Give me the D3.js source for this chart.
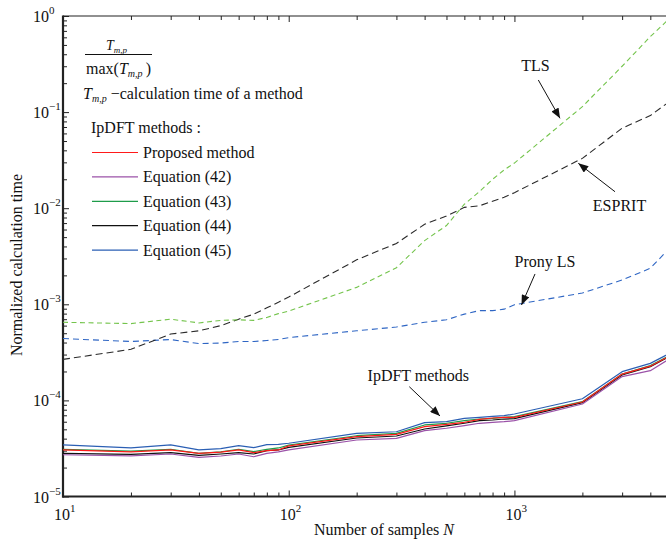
<!DOCTYPE html>
<html>
<head>
<meta charset="utf-8">
<script src="https://cdn.jsdelivr.net/npm/d3@7"></script>
<style>
  html, body { margin: 0; padding: 0; background: #fff; }
  svg { display: block; font-family: "Liberation Serif", "Times New Roman", serif; }
</style>
</head>
<body>
<svg id="chart" width="666" height="539"></svg>
<script>
// sample counts on the x axis
const samples = [10, 20, 30, 40, 50, 60, 70, 80, 90, 100, 200, 300, 400, 500, 600, 700, 800, 900, 1000, 2000, 3000, 4000, 5000];

// normalized calculation times
const tls = [6.5e-4, 6.3e-4, 7.0e-4, 6.4e-4, 6.8e-4, 6.9e-4, 6.8e-4, 7.3e-4, 8.0e-4, 8.5e-4, 1.5e-3, 2.4e-3, 4.6e-3, 6.6e-3, 1.1e-2, 1.49e-2, 2.0e-2, 2.5e-2, 2.95e-2, 0.114, 0.30, 0.61, 1.0];
const esprit = [2.67e-4, 3.4e-4, 4.9e-4, 5.3e-4, 6.0e-4, 7.0e-4, 7.9e-4, 9.2e-4, 1.05e-3, 1.19e-3, 2.9e-3, 4.3e-3, 6.8e-3, 8.3e-3, 1.02e-2, 1.06e-2, 1.18e-2, 1.3e-2, 1.45e-2, 3.3e-2, 6.8e-2, 9.2e-2, 0.135];
const pronyLS = [4.4e-4, 4.1e-4, 4.3e-4, 3.9e-4, 3.95e-4, 4.1e-4, 4.1e-4, 4.2e-4, 4.3e-4, 4.5e-4, 5.3e-4, 5.8e-4, 6.5e-4, 6.9e-4, 7.9e-4, 8.6e-4, 8.6e-4, 8.9e-4, 9.9e-4, 1.31e-3, 1.79e-3, 2.37e-3, 4.1e-3];

const proposed = [3.05e-5, 2.91e-5, 3.05e-5, 2.81e-5, 2.89e-5, 3.05e-5, 2.86e-5, 3.0e-5, 3.05e-5, 3.36e-5, 4.19e-5, 4.43e-5, 5.33e-5, 5.64e-5, 5.92e-5, 6.36e-5, 6.56e-5, 6.67e-5, 6.67e-5, 9.63e-5, 1.88e-4, 2.27e-4, 3.0e-4];
const eq42 = [2.72e-5, 2.65e-5, 2.77e-5, 2.55e-5, 2.64e-5, 2.77e-5, 2.59e-5, 2.81e-5, 2.91e-5, 3.05e-5, 3.87e-5, 4.03e-5, 4.84e-5, 5.13e-5, 5.46e-5, 5.78e-5, 5.92e-5, 6.01e-5, 6.15e-5, 9.17e-5, 1.77e-4, 2.04e-4, 2.82e-4];
const eq43 = [3.1e-5, 2.96e-5, 3.1e-5, 2.81e-5, 2.91e-5, 3.1e-5, 2.93e-5, 3.1e-5, 3.2e-5, 3.42e-5, 4.29e-5, 4.54e-5, 5.55e-5, 5.78e-5, 6.15e-5, 6.4e-5, 6.51e-5, 6.67e-5, 6.77e-5, 9.7e-5, 1.88e-4, 2.31e-4, 3.03e-4];
const eq44 = [2.81e-5, 2.75e-5, 2.86e-5, 2.68e-5, 2.77e-5, 2.86e-5, 2.77e-5, 3.0e-5, 3.05e-5, 3.25e-5, 4.06e-5, 4.26e-5, 5.04e-5, 5.42e-5, 5.78e-5, 6.15e-5, 6.25e-5, 6.4e-5, 6.45e-5, 9.47e-5, 1.84e-4, 2.24e-4, 2.96e-4];
const eq45 = [3.44e-5, 3.2e-5, 3.44e-5, 3.05e-5, 3.15e-5, 3.38e-5, 3.22e-5, 3.46e-5, 3.48e-5, 3.58e-5, 4.54e-5, 4.72e-5, 5.87e-5, 6.01e-5, 6.51e-5, 6.67e-5, 6.83e-5, 6.93e-5, 7.22e-5, 1.04e-4, 1.99e-4, 2.43e-4, 3.18e-4];

// tick values
const xMajorTicks = [10, 100, 1000];
const xMinorTicks = [20, 30, 40, 50, 60, 70, 80, 90, 200, 300, 400, 500, 600, 700, 800, 900, 2000, 3000, 4000, 5000];
const yMajorTicks = [1e-5, 1e-4, 1e-3, 1e-2, 1e-1, 1];
const yMinorTicks = [1e-5, 1e-4, 1e-3, 1e-2, 1e-1].flatMap(d => [2, 3, 4, 5, 6, 7, 8, 9].map(k => k * d));

const legendLabels = ["Proposed method", "Equation (42)", "Equation (43)", "Equation (44)", "Equation (45)"];

const svg = d3.select("#chart");
const plotLeft = 63, plotRight = 672.2, plotTop = 16, plotBottom = 496.5;

const x = d3.scaleLog().domain([10, 5000]).range([plotLeft, plotRight]);
const y = d3.scaleLog().domain([1e-5, 1]).range([plotBottom, plotTop]);

const defs = svg.append("defs");
defs.append("clipPath").attr("id", "plotClip")
  .append("rect")
  .attr("x", plotLeft).attr("y", plotTop)
  .attr("width", plotRight - plotLeft).attr("height", plotBottom - plotTop);

defs.append("marker")
  .attr("id", "arrowHead")
  .attr("viewBox", "0 0 10 8")
  .attr("refX", 10).attr("refY", 4)
  .attr("markerUnits", "userSpaceOnUse")
  .attr("markerWidth", 11).attr("markerHeight", 8)
  .attr("orient", "auto")
  .append("path")
  .attr("d", "M0,0 L10,4 L0,8 Z")
  .attr("fill", "#111");

// axes: ticks point inward like the MATLAB figure
function drawAxis(axisFn, ticks, size, transform) {
  const g = svg.append("g")
    .attr("transform", transform)
    .call(axisFn.tickValues(ticks).tickSize(size).tickSizeOuter(0).tickFormat(""));
  g.select(".domain").remove();
  g.selectAll(".tick line").attr("stroke", "#222").attr("stroke-width", 1);
  return g;
}

drawAxis(d3.axisBottom(x), xMajorTicks, -6, `translate(0,${plotBottom})`);
drawAxis(d3.axisBottom(x), xMinorTicks, -4, `translate(0,${plotBottom})`);
drawAxis(d3.axisTop(x), xMajorTicks, -6, `translate(0,${plotTop})`);
drawAxis(d3.axisTop(x), xMinorTicks, -4, `translate(0,${plotTop})`);
drawAxis(d3.axisLeft(y), yMajorTicks, -6, `translate(${plotLeft},0)`);
drawAxis(d3.axisLeft(y), yMinorTicks, -4, `translate(${plotLeft},0)`);
drawAxis(d3.axisRight(y), yMajorTicks, -6, `translate(${plotRight},0)`);
drawAxis(d3.axisRight(y), yMinorTicks, -4, `translate(${plotRight},0)`);

// frame
svg.append("line").attr("x1", plotLeft).attr("x2", plotRight).attr("y1", plotTop).attr("y2", plotTop)
  .attr("stroke", "#222").attr("stroke-width", 1.2);
svg.append("line").attr("x1", plotRight).attr("x2", plotRight).attr("y1", plotTop).attr("y2", plotBottom)
  .attr("stroke", "#222").attr("stroke-width", 1.2);
svg.append("line").attr("x1", plotLeft).attr("x2", plotLeft).attr("y1", plotTop - 0.6).attr("y2", plotBottom + 1)
  .attr("stroke", "#222").attr("stroke-width", 2.2);
svg.append("line").attr("x1", plotLeft - 1).attr("x2", plotRight).attr("y1", plotBottom).attr("y2", plotBottom)
  .attr("stroke", "#222").attr("stroke-width", 2.2);

// tick labels as 10^k
const xLab = svg.append("g").attr("font-size", 16).attr("fill", "#111");
xMajorTicks.forEach(t => {
  const txt = xLab.append("text").attr("x", x(t) - 9).attr("y", 520);
  txt.append("tspan").text("10");
  txt.append("tspan").attr("dy", -8).attr("font-size", 11).text(Math.round(Math.log10(t)));
});

const yLab = svg.append("g").attr("font-size", 16).attr("fill", "#111");
yMajorTicks.forEach(t => {
  const e = Math.round(Math.log10(t));
  const txt = yLab.append("text").attr("x", 33).attr("y", y(t) + 6);
  txt.append("tspan").text("10");
  txt.append("tspan").attr("dy", -8).attr("font-size", 11).text(e < 0 ? "\u2212" + (-e) : e);
});

// axis titles
const xTitle = svg.append("text")
  .attr("x", 384).attr("y", 535)
  .attr("text-anchor", "middle").attr("font-size", 16).attr("fill", "#111");
xTitle.append("tspan").text("Number of samples ");
xTitle.append("tspan").attr("font-style", "italic").text("N");

svg.append("text")
  .attr("transform", "translate(21.5,265) rotate(-90)")
  .attr("text-anchor", "middle").attr("font-size", 16).attr("fill", "#111")
  .text("Normalized calculation time");

// series
const line = d3.line().x((d, i) => x(samples[i])).y(d => y(d));
const plot = svg.append("g").attr("clip-path", "url(#plotClip)");

const dashed = [
  { values: pronyLS, color: "#2f66c4", dash: "6,4" },
  { values: esprit, color: "#2a2a2a", dash: "7,4" },
  { values: tls, color: "#74c44c", dash: "5,3.5" }
];
dashed.forEach(s => {
  plot.append("path").datum(s.values)
    .attr("d", line)
    .attr("fill", "none")
    .attr("stroke", s.color)
    .attr("stroke-width", 1.1)
    .attr("stroke-dasharray", s.dash);
});

const solid = [
  { values: proposed, color: "#ff1a1a" },
  { values: eq42, color: "#9b52a8" },
  { values: eq43, color: "#1e9c4a" },
  { values: eq44, color: "#111111" },
  { values: eq45, color: "#2b5fb4" }
];
// draw in reverse so the proposed method sits on top
solid.slice().reverse().forEach(s => {
  plot.append("path").datum(s.values)
    .attr("d", line)
    .attr("fill", "none")
    .attr("stroke", s.color)
    .attr("stroke-width", 1.2)
    .attr("stroke-linejoin", "round");
});

// legend text block
const info = svg.append("g").attr("font-size", 16).attr("fill", "#111");
const num = info.append("text").attr("x", 106).attr("y", 50).attr("font-size", 14);
num.append("tspan").attr("font-style", "italic").text("T");
num.append("tspan").attr("font-style", "italic").attr("font-size", 9).attr("dy", 3).text("m,p");
info.append("line").attr("x1", 85).attr("x2", 152).attr("y1", 54.5).attr("y2", 54.5)
  .attr("stroke", "#111").attr("stroke-width", 1);
const den = info.append("text").attr("x", 86).attr("y", 74);
den.append("tspan").text("max(");
den.append("tspan").attr("font-style", "italic").text("T");
den.append("tspan").attr("font-style", "italic").attr("font-size", 10).attr("dy", 3).text("m,p");
den.append("tspan").attr("dy", -3).text("\u2009)");

const def = info.append("text").attr("x", 83).attr("y", 99);
def.append("tspan").attr("font-style", "italic").text("T");
def.append("tspan").attr("font-style", "italic").attr("font-size", 10).attr("dy", 3).text("m,p");
def.append("tspan").attr("dy", -3).text(" \u2212calculation time of a method");

info.append("text").attr("x", 91).attr("y", 133).text("IpDFT methods :");

const legend = info.selectAll("g.item").data(solid).join("g")
  .attr("class", "item")
  .attr("transform", (d, i) => `translate(0,${152.5 + i * 24.4})`);
legend.append("line")
  .attr("x1", 92).attr("x2", 138)
  .attr("stroke", d => d.color).attr("stroke-width", 1.2);
legend.append("text")
  .attr("x", 143).attr("y", 5.5)
  .text((d, i) => legendLabels[i]);

// annotations: arrow tip in data coords, start/label as pixel offsets
const notes = [
  { text: "TLS", n: 1592, v: 0.0862, from: [-21.7, -38.3], label: [-24.5, -47.6] },
  { text: "ESPRIT", n: 1919, v: 0.0293, from: [36.7, 28.4], label: [41.2, 47.4] },
  { text: "Prony LS", n: 1075, v: 9.84e-4, from: [13.5, -31], label: [23.5, -38.3] },
  { text: "IpDFT methods", n: 468, v: 6.88e-5, from: [-30.7, -29.3], label: [-21.7, -35.3] }
];
const ann = svg.append("g").attr("font-size", 16).attr("fill", "#111");
notes.forEach(a => {
  const tx = x(a.n), ty = y(a.v);
  ann.append("line")
    .attr("x1", tx + a.from[0]).attr("y1", ty + a.from[1])
    .attr("x2", tx).attr("y2", ty)
    .attr("stroke", "#111").attr("stroke-width", 1)
    .attr("marker-end", "url(#arrowHead)");
  ann.append("text")
    .attr("x", tx + a.label[0]).attr("y", ty + a.label[1])
    .attr("text-anchor", "middle")
    .text(a.text);
});
</script>
</body>
</html>
